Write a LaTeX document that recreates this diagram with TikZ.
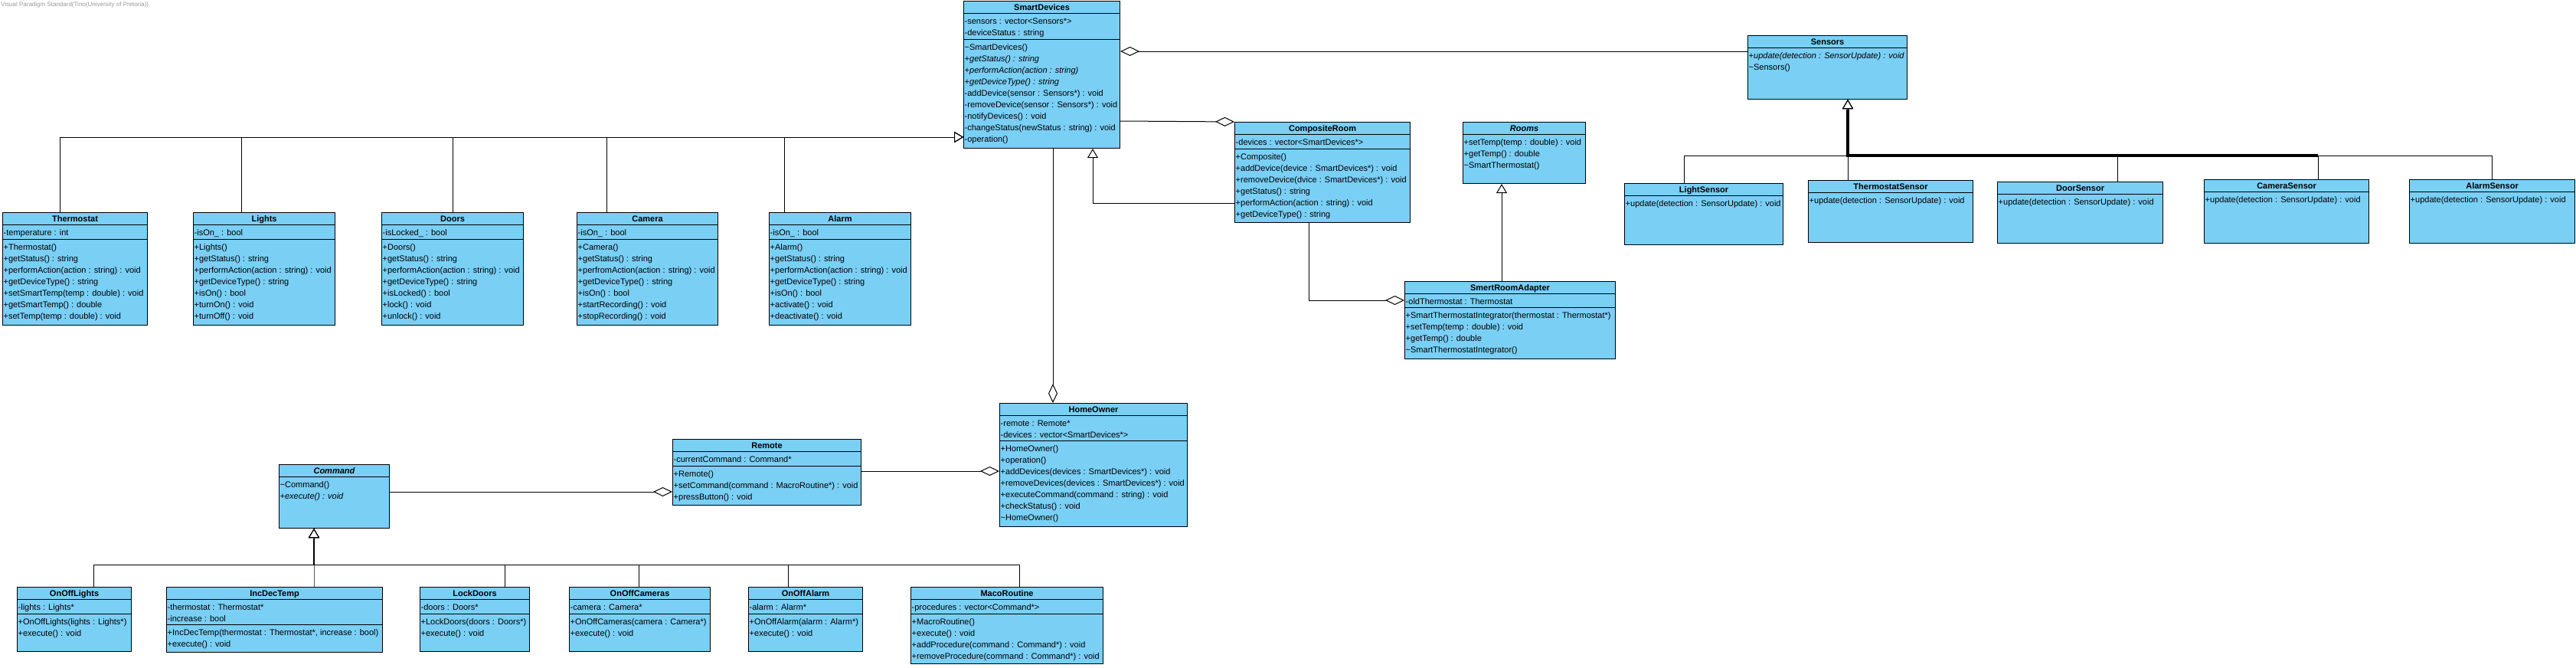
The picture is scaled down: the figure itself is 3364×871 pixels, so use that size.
\documentclass[tikz,border=0pt]{standalone}
\usepackage{fontspec}
\setmainfont{Liberation Sans}
\usetikzlibrary{arrows.meta}

\definecolor{vpblue}{RGB}{122,207,245}

\newcommand{\umlclass}[9]{%
	\node[classbox, minimum width=#4pt, minimum height=#5pt] (#1) at (#2,#3) {};
	\node[classtitle] at ([yshift=-12pt]#1.north) {#6};
	\draw[classline] ([yshift=-16pt]#1.north west) -- ([yshift=-16pt]#1.north east);
	\ifnum#7>0
		\node[classtext] at ([xshift=1.5pt,yshift=-19.5pt]#1.north west) {\strut#8};
		\draw[classline] ([yshift=-16pt-#7pt]#1.north west) -- ([yshift=-16pt-#7pt]#1.north east);
	\fi
	\node[classtext] at ([xshift=1.5pt,yshift=-19.5pt-#7pt]#1.north west) {\strut#9};
}

\begin{document}
\begin{tikzpicture}[x=1pt,y=-1pt,
		classbox/.style={draw=black, fill=vpblue, line width=1.1pt, rectangle, inner sep=0pt, anchor=north west},
		classtitle/.style={anchor=base, inner sep=0pt, font=\fontsize{11}{15}\selectfont\bfseries},
		classtext/.style={anchor=north west, inner sep=0pt, align=left, font=\fontsize{11}{15}\selectfont},
		classline/.style={line width=1pt}]

		\fill[white] (0,0) rectangle (3364,871);
		\node[anchor=north west, inner sep=0pt, text=black!40, font=\fontsize{8}{9}\selectfont] (mark) at (1,2) {Visual Paradigm Standard(Tino(University of Pretoria))};

		\umlclass{smart}{1258}{1}{204}{192}{SmartDevices}{34}
			{-sensors : vector<Sensors*>\\-deviceStatus : string}
			{\textasciitilde SmartDevices()\\\textit{+getStatus() : string}\\\textit{+performAction(action : string)}\\\textit{+getDeviceType() : string}\\-addDevice(sensor : Sensors*) : void\\-removeDevice(sensor : Sensors*) : void\\-notifyDevices() : void\\-changeStatus(newStatus : string) : void\\-operation()}
		\umlclass{sensors}{2282}{46}{208}{83}{Sensors}{0}{}
			{\textit{+update(detection : SensorUpdate) : void}\\\textasciitilde Sensors()}
		\umlclass{comp}{1612}{159}{229}{131}{CompositeRoom}{19}
			{-devices : vector<SmartDevices*>}
			{+Composite()\\+addDevice(device : SmartDevices*) : void\\+removeDevice(dvice : SmartDevices*) : void\\+getStatus() : string\\+performAction(action : string) : void\\+getDeviceType() : string}
		\umlclass{rooms}{1910}{159}{160}{80}{\textit{Rooms}}{0}{}
			{+setTemp(temp : double) : void\\+getTemp() : double\\\textasciitilde SmartThermostat()}
		\umlclass{adapter}{1834}{367}{275}{101}{SmertRoomAdapter}{18}
			{-oldThermostat : Thermostat}
			{+SmartThermostatIntegrator(thermostat : Thermostat*)\\+setTemp(temp : double) : void\\+getTemp() : double\\\textasciitilde SmartThermostatIntegrator()}

		\umlclass{thermo}{3}{277}{189}{147}{Thermostat}{19}
			{-temperature : int}
			{+Thermostat()\\+getStatus() : string\\+performAction(action : string) : void\\+getDeviceType() : string\\+setSmartTemp(temp : double) : void\\+getSmartTemp() : double\\+setTemp(temp : double) : void}
		\umlclass{lights}{252}{277}{185}{147}{Lights}{19}
			{-isOn\_ : bool}
			{+Lights()\\+getStatus() : string\\+performAction(action : string) : void\\+getDeviceType() : string\\+isOn() : bool\\+turnOn() : void\\+turnOff() : void}
		\umlclass{doors}{498}{277}{185}{147}{Doors}{19}
			{-isLocked\_ : bool}
			{+Doors()\\+getStatus() : string\\+performAction(action : string) : void\\+getDeviceType() : string\\+isLocked() : bool\\+lock() : void\\+unlock() : void}
		\umlclass{camera}{753}{277}{184}{147}{Camera}{19}
			{-isOn\_ : bool}
			{+Camera()\\+getStatus() : string\\+perfromAction(action : string) : void\\+getDeviceType() : string\\+isOn() : bool\\+startRecording() : void\\+stopRecording() : void}
		\umlclass{alarm}{1004}{277}{185}{147}{Alarm}{19}
			{-isOn\_ : bool}
			{+Alarm()\\+getStatus() : string\\+performAction(action : string) : void\\+getDeviceType() : string\\+isOn() : bool\\+activate() : void\\+deactivate() : void}

		\umlclass{lsensor}{2121}{239}{207}{80}{LightSensor}{0}{}{+update(detection : SensorUpdate) : void}
		\umlclass{tsensor}{2361}{235}{215}{81}{ThermostatSensor}{0}{}{+update(detection : SensorUpdate) : void}
		\umlclass{dsensor}{2608}{237}{216}{80}{DoorSensor}{0}{}{+update(detection : SensorUpdate) : void}
		\umlclass{csensor}{2878}{234}{215}{83}{CameraSensor}{0}{}{+update(detection : SensorUpdate) : void}
		\umlclass{asensor}{3146}{234}{216}{83}{AlarmSensor}{0}{}{+update(detection : SensorUpdate) : void}

		\umlclass{owner}{1305}{526}{245}{161}{HomeOwner}{33}
			{-remote : Remote*\\-devices : vector<SmartDevices*>}
			{+HomeOwner()\\+operation()\\+addDevices(devices : SmartDevices*) : void\\+removeDevices(devices : SmartDevices*) : void\\+executeCommand(command : string) : void\\+checkStatus() : void\\\textasciitilde HomeOwner()}
		\umlclass{remote}{878}{573}{246}{86}{Remote}{19}
			{-currentCommand : Command*}
			{+Remote()\\+setCommand(command : MacroRoutine*) : void\\+pressButton() : void}
		\umlclass{command}{364}{606}{144}{83}{\textit{Command}}{0}{}
			{\textasciitilde Command()\\\textit{+execute() : void}}

		\umlclass{onlights}{22}{766}{149}{84}{OnOffLights}{19}
			{-lights : Lights*}{+OnOffLights(lights : Lights*)\\+execute() : void}
		\umlclass{incdec}{217}{766}{282}{85}{IncDecTemp}{33}
			{-thermostat : Thermostat*\\-increase : bool}{+IncDecTemp(thermostat : Thermostat*, increase : bool)\\+execute() : void}
		\umlclass{lockdoors}{548}{766}{143}{84}{LockDoors}{19}
			{-doors : Doors*}{+LockDoors(doors : Doors*)\\+execute() : void}
		\umlclass{oncams}{743}{766}{184}{84}{OnOffCameras}{19}
			{-camera : Camera*}{+OnOffCameras(camera : Camera*)\\+execute() : void}
		\umlclass{onalarm}{977}{766}{149}{84}{OnOffAlarm}{19}
			{-alarm : Alarm*}{+OnOffAlarm(alarm : Alarm*)\\+execute() : void}
		\umlclass{macro}{1189}{766}{251}{100}{MacoRoutine}{19}
			{-procedures : vector<Command*>}
			{+MacroRoutine()\\+execute() : void\\+addProcedure(command : Command*) : void\\+removeProcedure(command : Command*) : void}

		\coordinate (sfork) at (2413,203);
		\coordinate (cfork) at (410,737);

		\begin{scope}[line width=1pt,
			gen/.style={-{Triangle[fill=white, length=12pt, width=14pt]}},
			agg/.style={{Diamond[fill=white, length=25pt, width=12pt]}-}]

			\draw[agg] ([yshift=-66pt]smart.north east) -- ([yshift=-21pt]sensors.north west);
			\draw[agg] (comp.north west) -- ([yshift=-157pt]smart.north east);
			\draw[gen] ([yshift=-106pt]comp.north west) -| ([xshift=169pt]smart.south west);
			\foreach \dev/\dx in {thermo/75, lights/63, doors/93, camera/39, alarm/20}
				\draw[gen] ([xshift=\dx pt]\dev.north west) |- ([yshift=-178pt]smart.north west);

			\draw[gen] ([xshift=127pt]adapter.north west) -- ([xshift=51pt]rooms.south west);
			\draw[agg] ([yshift=-25pt]adapter.north west) -| ([xshift=97pt]comp.south west);
			\draw[agg] ([xshift=70pt]owner.north west) -- ([xshift=117pt]smart.south west);
			\draw[agg] ([yshift=-89pt]owner.north west) -- ([yshift=-42pt]remote.north east);
			\draw[agg] ([yshift=-69pt]remote.north west) -- ([yshift=-36pt]command.north east);

			\foreach \sen/\dx in {lsensor/78, tsensor/52, dsensor/157, csensor/149, asensor/108}
				\draw[gen] ([xshift=\dx pt]\sen.north west) |- (sfork) -- (sensors.south -| sfork);
			\foreach \cmd/\dx in {onlights/100, incdec/193, lockdoors/111, oncams/91, onalarm/52, macro/142}
				\draw[gen] ([xshift=\dx pt]\cmd.north west) |- (cfork) -- (command.south -| cfork);

			\draw[line width=3.5pt] ([yshift=-13pt]sensors.south -| sfork) -- (sfork) -- ([xshift=149pt]csensor.north west |- sfork);
			\draw[line width=2.5pt] ([yshift=-13pt]command.south -| cfork) -- (cfork);

		\end{scope}

	\end{tikzpicture}
\end{document}
